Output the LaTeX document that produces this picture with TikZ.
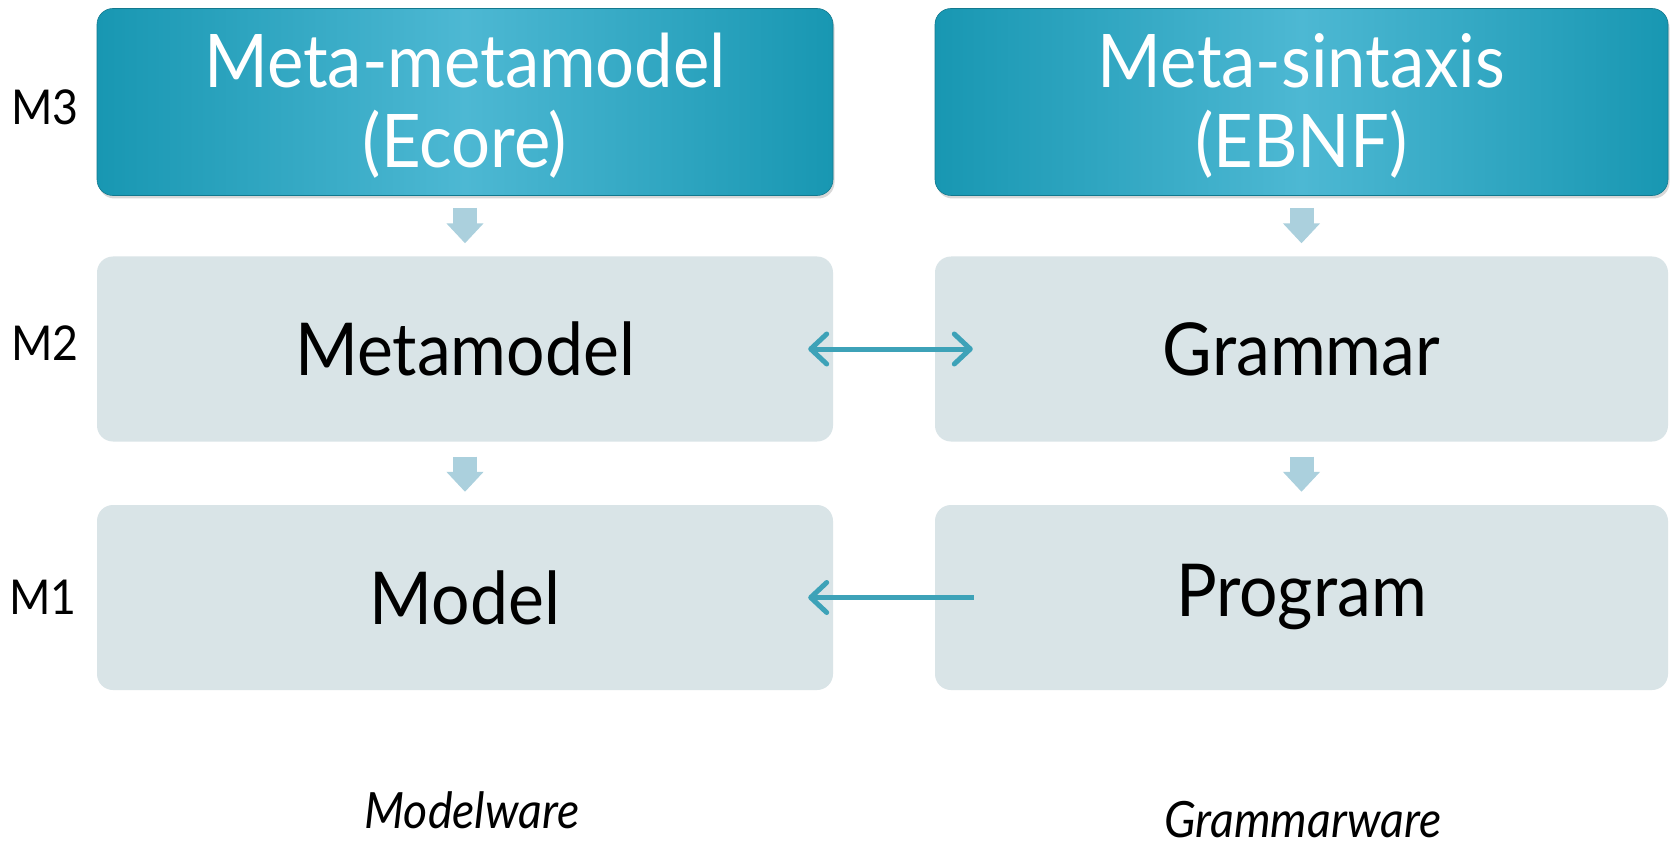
\documentclass[tikz,border=0pt]{standalone}
\usepackage{fontspec}
\setmainfont{Lato}[FakeStretch=0.93]
\usetikzlibrary{arrows.meta,shadows,positioning}
\definecolor{tealdark}{HTML}{1897B2}
\definecolor{teallight}{HTML}{4DB8D3}
\definecolor{lightbox}{HTML}{D9E4E7}
\definecolor{arrowteal}{HTML}{3DA2B8}
\definecolor{blockblue}{HTML}{ABD0DD}
\tikzset{
  topbox/.style={rounded corners=16pt, minimum width=736pt, minimum height=187pt,
    left color=tealdark, right color=tealdark, middle color=teallight,
    draw=tealdark!80!black, line width=0.6pt,
    drop shadow={opacity=0.3, shadow xshift=1.5pt, shadow yshift=-3pt}, inner sep=0pt},
  toptext/.style={text=white, font=\fontsize{74}{80}\selectfont, align=center, inner sep=0pt},
  midbox/.style={rounded corners=16pt, minimum width=736pt, minimum height=185pt,
    fill=lightbox, draw=none, text=black, font=\fontsize{73}{80}\selectfont, inner sep=0pt},
  levellabel/.style={font=\fontsize{48}{54}\selectfont, text=black, inner sep=0pt},
  warelabel/.style={font=\fontsize{50}{56}\selectfont\itshape, text=black, inner sep=0pt},
  blockarrow/.style={draw=blockblue, line width=24pt,
    -{Triangle[length=20pt, width=36pt, fill=blockblue]}},
  linkarrow/.style={draw=arrowteal, line width=5pt,
    {Straight Barb[length=16pt, width=30pt, line cap=round, line join=round]}-{Straight Barb[length=16pt, width=30pt, line cap=round, line join=round]}},
  linkarrowL/.style={draw=arrowteal, line width=5pt,
    {Straight Barb[length=16pt, width=30pt, line cap=round, line join=round]}-},
}
\begin{document}
\begin{tikzpicture}[x=1pt, y=-1pt]
\useasboundingbox[fill=white] (0,0) rectangle (1671,845);

\node[topbox] (mmm) at (465,102) {};
\node[topbox, minimum width=733pt] (msx) at (1301.5,102) {};
\node[toptext] (mmmt) at (465,106) {Meta-metamodel\\(Ecore)};
\node[toptext] (msxt) at (1301.5,106) {Meta-sintaxis\\(EBNF)};

\node[midbox] (mm) at (465,349) {Metamodel};
\node[midbox, minimum width=733pt] (gr) at (1301.5,349) {Grammar};

\node[midbox] (mo) at (465,597.5) {Model};
\node[midbox, minimum width=733pt] (pr) at (1301.5,597.5) {Program};

\node[levellabel] (m3) at (45,107) {M3};
\node[levellabel] (m2) at (45,343) {M2};
\node[levellabel] (m1) at (43,597) {M1};

\node[warelabel] (mw) at (472,810) {Modelware};
\node[warelabel] (gw) at (1303,820) {Grammarware};

\draw[blockarrow] ([yshift=-12pt]mmm.south) -- ([yshift=13pt]mm.north);
\draw[blockarrow] ([yshift=-12pt]msx.south) -- ([yshift=13pt]gr.north);
\draw[blockarrow] ([yshift=-15pt]mm.south) -- ([yshift=13pt]mo.north);
\draw[blockarrow] ([yshift=-15pt]gr.south) -- ([yshift=13pt]pr.north);

\draw[linkarrow] ([xshift=-25pt]mm.east) -- ([xshift=38pt]gr.west);
\draw[linkarrowL] ([xshift=-25pt]mo.east) -- ([xshift=39pt]pr.west);
\end{tikzpicture}
\end{document}
